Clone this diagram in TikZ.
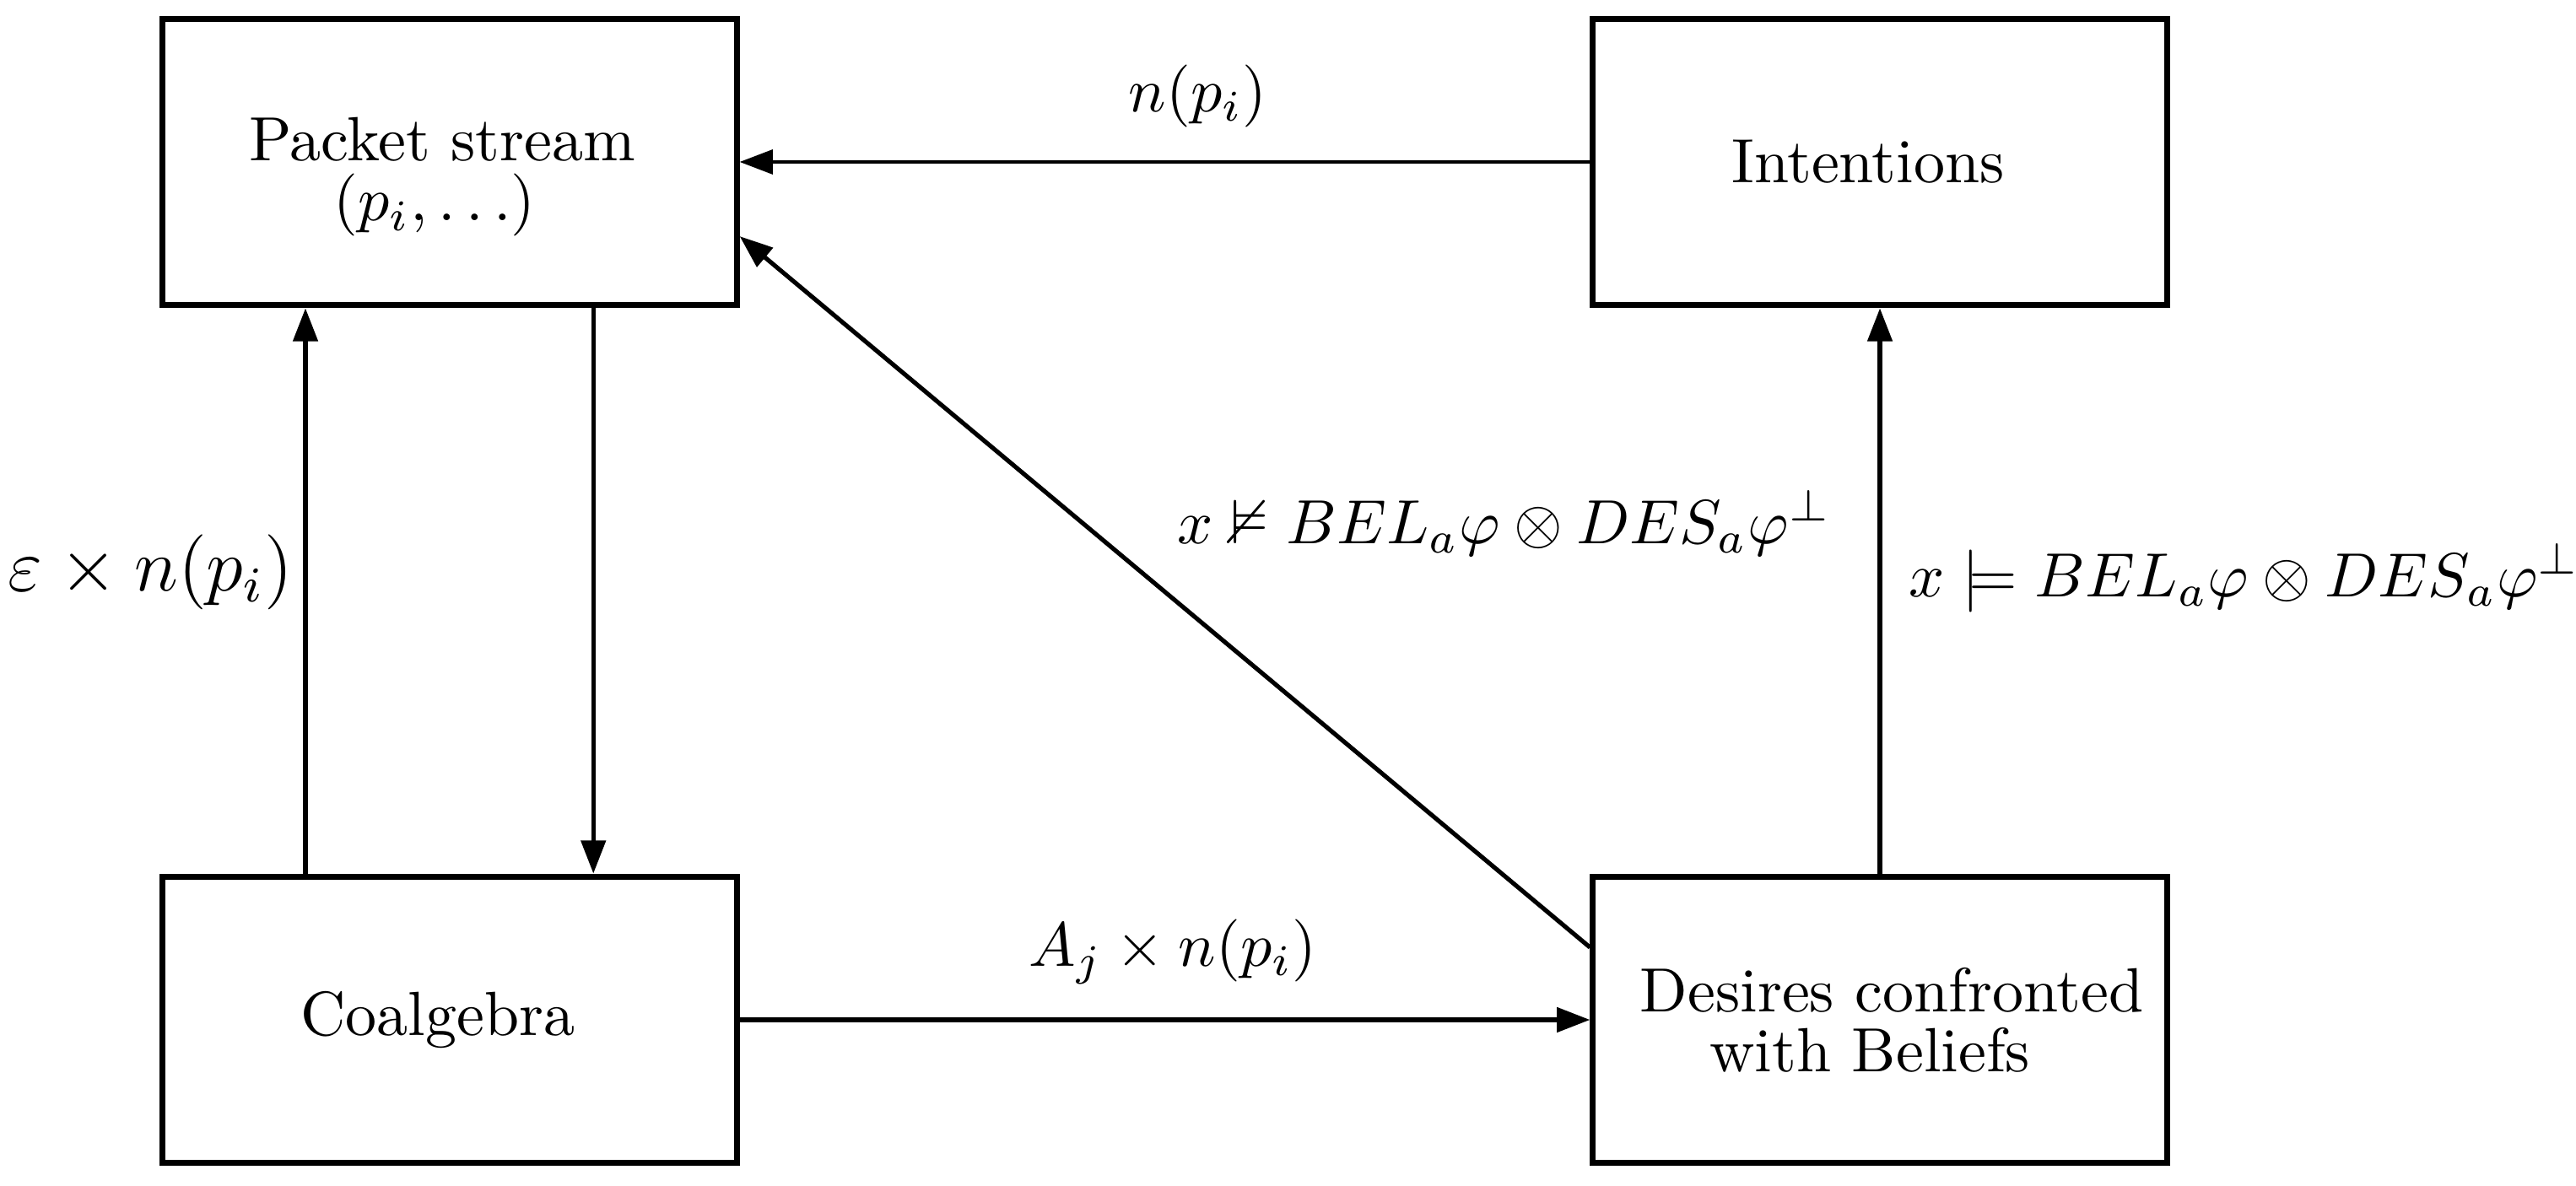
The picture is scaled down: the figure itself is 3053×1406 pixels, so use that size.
\documentclass[tikz,border=0pt]{standalone}
\usepackage{amssymb}
\usetikzlibrary{arrows.meta}
\begin{document}
\begin{tikzpicture}[x=0.1351pt,y=-0.1351pt,
  box/.style={draw, line width=0.95pt, minimum width=91.9pt, minimum height=45.9pt, inner sep=0pt, align=center, font=\fontsize{10}{9.6}\selectfont},
  arr/.style={line width=0.7pt, -{Triangle[length=5.3pt,width=3.9pt]}},
  thinarr/.style={arr, line width=0.5pt}]
\useasboundingbox (0,0) rectangle (3053,1406);
\node[box] (pkt) at (533,192) {\rule{0pt}{11.8pt}Packet stream\hspace*{2.4pt}\\$(p_i,\ldots)$\hspace*{4.8pt}};
\node[box] (int) at (2228,192) {Intentions\hspace*{3.8pt}};
\node[box] (coal) at (533,1209) {Coalgebra\hspace*{3.8pt}};
\node[box] (des) at (2228,1209) {\hspace*{3.8pt}Desires confronted\\with Beliefs\hspace*{3.2pt}};
\draw[thinarr] (int) -- (pkt) node[midway, above=2pt, xshift=5.3pt] {$n(p_i)$};
\draw[arr] (coal) -- (des) node[midway, above=2pt, xshift=1.3pt] {$A_j\times n(p_i)$};
\draw[arr] ([xshift=-23.1pt]coal.north) -- ([xshift=-23.1pt]pkt.south)
  node[midway, left, inner sep=1.6pt, yshift=3pt, font=\large] {$\varepsilon\times n(p_i)$};
\draw[arr] ([xshift=23pt]pkt.south) -- ([xshift=23pt]coal.north);
\draw[arr] (des) -- (int)
  node[midway, right=1pt, yshift=2pt] {$x\models BEL_a\varphi\otimes DES_a\varphi^\perp$};
\draw[arr] ([yshift=11.6pt]des.west) -- ([yshift=-11.9pt]pkt.east);
\node (dlbl) at (1783,620) {$x\nvDash BEL_a\varphi\otimes DES_a\varphi^\perp$};
\end{tikzpicture}
\end{document}
